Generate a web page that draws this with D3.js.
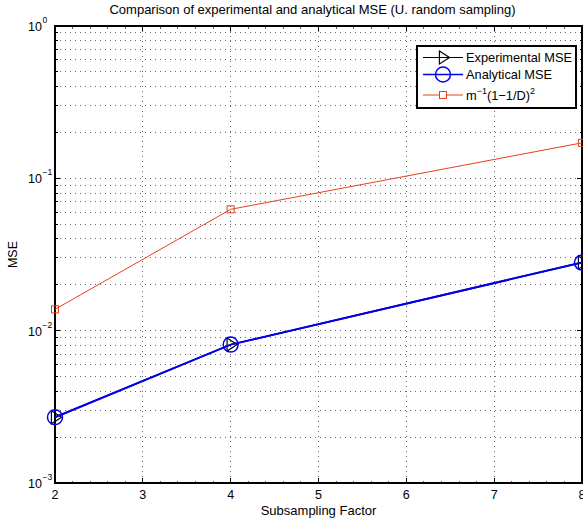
<!DOCTYPE html>
<html><head><meta charset="utf-8">
<script src="https://cdn.jsdelivr.net/npm/d3@7"></script>
<style>body{margin:0;background:#fff;} svg{display:block;} text{font-family:"Liberation Sans",Arial,Helvetica,sans-serif;}</style>
</head><body>
<script>
const subsampling = [2, 4, 8];
const experimentalMSE = [0.0027, 0.0081, 0.028];
const analyticalMSE = [0.0027, 0.0081, 0.028];
const boundMSE = [0.0138, 0.0626, 0.171];
const xTicks = [2, 3, 4, 5, 6, 7, 8];
const yDecades = [-3, -2, -1, 0];

const W = 583, H = 520;
const m = {l: 55, r: 582, t: 26, b: 483};
const svg = d3.select("body").append("svg").attr("width", W).attr("height", H);
const x = d3.scaleLinear().domain([2, 8]).range([m.l, m.r]);
const y = d3.scaleLog().domain([1e-3, 1]).range([m.b, m.t]);

// grid
const g = svg.append("g");
const minorY = [];
for (let e = -3; e < 0; e++) for (let k = 1; k <= 9; k++) minorY.push(k * Math.pow(10, e));
minorY.push(1);
g.selectAll(".hg").data(minorY.filter(v => v > 1e-3 && v < 1)).enter().append("line")
  .attr("x1", m.l).attr("x2", m.r).attr("y1", d => y(d)).attr("y2", d => y(d))
  .attr("stroke", "#666").attr("stroke-width", 1).attr("stroke-dasharray", "1,4").attr("shape-rendering", "crispEdges");
g.selectAll(".vg").data(xTicks.slice(1, -1)).enter().append("line")
  .attr("x1", d => x(d)).attr("x2", d => x(d)).attr("y1", m.t).attr("y2", m.b)
  .attr("stroke", "#666").attr("stroke-width", 1).attr("stroke-dasharray", "1,4").attr("shape-rendering", "crispEdges");

// axes ticks (inside)
const ax = svg.append("g").attr("stroke", "#000").attr("shape-rendering", "crispEdges");
xTicks.forEach(t => {
  ax.append("line").attr("x1", x(t)).attr("x2", x(t)).attr("y1", m.b).attr("y2", m.b - 5);
  ax.append("line").attr("x1", x(t)).attr("x2", x(t)).attr("y1", m.t).attr("y2", m.t + 5);
});
d3.range(2, 8.01, 0.2).forEach(t => {
  ax.append("line").attr("x1", x(t)).attr("x2", x(t)).attr("y1", m.b).attr("y2", m.b - 2.5).attr("stroke-width", 0.6);
  ax.append("line").attr("x1", x(t)).attr("x2", x(t)).attr("y1", m.t).attr("y2", m.t + 2.5).attr("stroke-width", 0.6);
});
minorY.forEach(v => {
  const isMajor = Math.abs(Math.log10(v) - Math.round(Math.log10(v))) < 1e-9;
  const len = isMajor ? 5 : 2.5;
  ax.append("line").attr("x1", m.l).attr("x2", m.l + len).attr("y1", y(v)).attr("y2", y(v));
  ax.append("line").attr("x1", m.r).attr("x2", m.r - len).attr("y1", y(v)).attr("y2", y(v));
});
svg.append("rect").attr("x", m.l).attr("y", m.t).attr("width", m.r - m.l).attr("height", m.b - m.t)
  .attr("fill", "none").attr("stroke", "#000").attr("stroke-width", 1.2).attr("shape-rendering", "crispEdges");

// tick labels
svg.selectAll(".xl").data(xTicks).enter().append("text")
  .attr("x", d => x(d)).attr("y", m.b + 16).attr("text-anchor", "middle").attr("font-size", 12.5).text(d => d);
yDecades.forEach(e => {
  svg.append("text").attr("x", 42).attr("y", y(Math.pow(10, e)) + 5).attr("text-anchor", "end").attr("font-size", 12.5).text("10");
  svg.append("text").attr("x", 42.5).attr("y", y(Math.pow(10, e)) - 3).attr("font-size", 8.5)
    .text(e < 0 ? "\u2212" + (-e) : e);
});

svg.append("text").attr("x", (m.l + m.r) / 2).attr("y", 515).attr("text-anchor", "middle").attr("font-size", 13).text("Subsampling Factor");
svg.append("text").attr("transform", `translate(17,${(m.t + m.b) / 2}) rotate(-90)`).attr("text-anchor", "middle").attr("font-size", 12.5).text("MSE");
svg.append("text").attr("x", (m.l + m.r) / 2 - 6).attr("y", 14).attr("text-anchor", "middle").attr("font-size", 13).text("Comparison of experimental and analytical MSE (U. random sampling)");

// data
const line = d3.line().x(d => x(d[0])).y(d => y(d[1]));
const plot = svg.append("g");
const red = "#e8401c";
const tri = (cx, cy, s) => `M${cx - s * 0.55},${cy - s}L${cx + s * 1.0},${cy}L${cx - s * 0.55},${cy + s}Z`;

plot.append("path").datum(subsampling.map((d, i) => [d, boundMSE[i]])).attr("d", line)
  .attr("fill", "none").attr("stroke", red).attr("stroke-width", 1);
plot.selectAll(".sq").data(subsampling.map((d, i) => [d, boundMSE[i]])).enter().append("rect")
  .attr("x", d => x(d[0]) - 3.5).attr("y", d => y(d[1]) - 3.5).attr("width", 7).attr("height", 7)
  .attr("fill", "none").attr("stroke", red).attr("stroke-width", 1);

plot.append("path").datum(subsampling.map((d, i) => [d, experimentalMSE[i]])).attr("d", line)
  .attr("fill", "none").attr("stroke", "#000").attr("stroke-width", 1.5);
plot.selectAll(".tr").data(subsampling.map((d, i) => [d, experimentalMSE[i]])).enter().append("path")
  .attr("d", d => tri(x(d[0]), y(d[1]), 6.5)).attr("fill", "none").attr("stroke", "#000").attr("stroke-width", 1.2);

plot.append("path").datum(subsampling.map((d, i) => [d, analyticalMSE[i]])).attr("d", line)
  .attr("fill", "none").attr("stroke", "#0000ee").attr("stroke-width", 2);
plot.selectAll(".ci").data(subsampling.map((d, i) => [d, analyticalMSE[i]])).enter().append("circle")
  .attr("cx", d => x(d[0])).attr("cy", d => y(d[1])).attr("r", 7.5)
  .attr("fill", "none").attr("stroke", "#0000ee").attr("stroke-width", 1.5);

// legend
const L = svg.append("g");
L.append("rect").attr("x", 417).attr("y", 46).attr("width", 159).attr("height", 62)
  .attr("fill", "#fff").attr("stroke", "#000").attr("stroke-width", 1.2).attr("shape-rendering", "crispEdges");
const ly = [57.5, 74.5, 95];
L.append("line").attr("x1", 423).attr("x2", 463).attr("y1", ly[0]).attr("y2", ly[0]).attr("stroke", "#000").attr("stroke-width", 1.2);
L.append("path").attr("d", tri(443, ly[0], 6.5)).attr("fill", "none").attr("stroke", "#000").attr("stroke-width", 1.2);
L.append("line").attr("x1", 423).attr("x2", 463).attr("y1", ly[1]).attr("y2", ly[1]).attr("stroke", "#0000ee").attr("stroke-width", 1.5);
L.append("circle").attr("cx", 443).attr("cy", ly[1]).attr("r", 7.5).attr("fill", "none").attr("stroke", "#0000ee").attr("stroke-width", 1.5);
L.append("line").attr("x1", 423).attr("x2", 463).attr("y1", ly[2]).attr("y2", ly[2]).attr("stroke", red).attr("stroke-width", 1);
L.append("rect").attr("x", 439.5).attr("y", ly[2] - 3.5).attr("width", 7).attr("height", 7).attr("fill", "#fff").attr("stroke", red);
L.append("text").attr("x", 466).attr("y", ly[0] + 4.5).attr("font-size", 12.8).text("Experimental MSE");
L.append("text").attr("x", 466).attr("y", ly[1] + 4.5).attr("font-size", 12.8).text("Analytical MSE");
const t3 = L.append("text").attr("x", 466).attr("y", ly[2] + 5).attr("font-size", 12.8);
t3.append("tspan").text("m");
t3.append("tspan").attr("font-size", 9).attr("dy", -6).text("\u22121");
t3.append("tspan").attr("dy", 6).text("(1\u22121/D)");
t3.append("tspan").attr("font-size", 9).attr("dy", -6).text("2");
</script>
</body></html>
